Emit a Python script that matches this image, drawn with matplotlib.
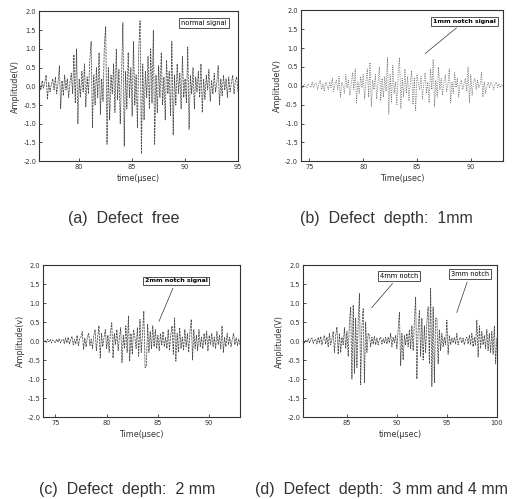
import matplotlib
matplotlib.use('agg')
import matplotlib.pyplot as plt
import numpy as np

DT = 0.125

A_T0 = 76.25
A_AMP = [
    0.05, -0.1, 0.15, -0.05, 0.1, 0.3, -0.35,
    0.1, -0.15, 0.05, 0.2, -0.1, 0.25, -0.2,
    0.1, 0.55, -0.6, 0.15, -0.25, 0.3, -0.1,
    0.2, -0.3, 0.1, 0.35, -0.2, 0.85, -0.45,
    1.0, -1.0, 0.2, -0.3, 0.4, -0.15, 0.6,
    -0.55, 0.25, -0.2, 0.7, 1.2, -1.1, 0.3,
    -0.5, 0.5, -0.3, 0.9, -0.75, 0.2, -0.4,
    1.1, 1.6, -1.55, 0.5, -0.9, 0.3, -0.2,
    0.6, -0.7, 1.0, -0.35, 0.45, -1.0, 0.3,
    1.7, -1.6, 0.4, -0.6, 0.9, -0.3, 0.5,
    -0.8, 1.2, -0.5, 0.3, -1.1, 1.0, 1.75,
    -1.8, 0.6, -0.9, 0.4, -0.3, 0.8, -0.6,
    1.0, -0.45, 1.5, -1.55, 0.3, -0.7, 0.55,
    -0.3, 0.9, -0.5, 0.25, -0.9, 0.7, -0.2,
    0.4, -0.8, 1.2, -1.3, 0.3, -0.5, 0.6,
    -0.2, 0.35, -0.6, 0.8, -0.3, 0.2, -0.45,
    1.05, -1.15, 0.3, -0.2, 0.5, -0.6, 0.25,
    -0.15, 0.4, -0.3, 0.6, -0.7, 0.2, -0.35,
    0.3, -0.1, 0.45, -0.4, 0.15, -0.2, 0.35,
    -0.15, 0.1, 0.55, -0.5, 0.2, -0.25, 0.3,
    -0.1, 0.2, -0.3, 0.25, -0.15, 0.1, 0.3,
    -0.2, 0.15, 0.25, -0.15]

B_T0 = 74.25
B_AMP = [
    0.02, -0.05, 0.05, 0.0, -0.05, 0.05, 0.02,
    -0.05, 0.1, -0.05, 0.05, 0.08, -0.1, 0.05,
    0.15, -0.1, 0.05, -0.15, 0.1, 0.0, -0.1,
    0.1, -0.05, 0.2, -0.15, 0.05, 0.15, -0.1,
    0.25, -0.3, 0.1, 0.0, -0.2, 0.3, -0.05,
    0.15, -0.25, 0.05, 0.35, -0.1, 0.45, -0.45,
    0.1, -0.2, 0.25, -0.05, 0.3, -0.35, 0.1,
    0.45, -0.3, 0.62, -0.55, 0.15, -0.1, 0.3,
    -0.35, 0.1, 0.5, -0.4, 0.2, -0.3, 0.25,
    -0.15, 0.75, -0.75, 0.3, -0.45, 0.55, -0.2,
    0.1, -0.5, 0.35, 0.75, -0.6, 0.2, -0.3,
    0.45, -0.2, 0.25, -0.4, 0.1, 0.4, -0.5,
    0.2, -0.65, 0.3, 0.05, -0.1, 0.25, -0.35,
    0.05, 0.35, -0.2, 0.1, -0.45, 0.45, -0.1,
    0.7, -0.55, 0.15, -0.3, 0.5, -0.1, 0.2,
    -0.25, 0.1, 0.3, -0.15, 0.05, 0.45, -0.45,
    0.1, -0.2, 0.35, -0.05, 0.2, -0.3, 0.05,
    0.15, -0.1, 0.05, 0.2, -0.15, 0.5, -0.45,
    0.3, -0.25, 0.1, 0.2, -0.1, 0.15, -0.05,
    0.05, 0.35, -0.3, 0.1, -0.2, 0.0, 0.1,
    -0.05, 0.1, 0.05, -0.1, 0.05, 0.1, -0.05,
    0.05, -0.05, 0.02, 0.0]

C_T0 = 74.0
C_AMP = [
    0.02, -0.05, 0.05, -0.02, 0.04, -0.05, 0.03, 0.0,
    -0.04, 0.05, -0.03, 0.06, -0.05, 0.02, 0.05, -0.06,
    0.08, -0.05, 0.1, -0.08, 0.04, 0.12, -0.1, 0.05,
    -0.08, 0.15, -0.12, 0.06, 0.1, 0.25, -0.22, 0.08,
    -0.15, 0.1, 0.2, -0.12, 0.05, -0.2, 0.15, 0.3,
    -0.25, 0.1, 0.4, -0.45, 0.2, -0.15, 0.1, 0.3,
    -0.2, 0.15, -0.3, 0.25, 0.48, -0.45, 0.2, -0.1,
    0.3, -0.25, 0.1, 0.35, -0.57, 0.15, -0.2, 0.4,
    -0.3, 0.66, -0.53, 0.2, -0.35, 0.3, 0.1, -0.2,
    0.35, -0.4, 0.57, -0.3, 0.2, 0.79, -0.7, -0.65,
    0.45, -0.3, 0.25, -0.2, 0.4, -0.15, 0.3, -0.2,
    0.15, -0.25, 0.2, -0.1, 0.25, -0.15, 0.1, -0.2,
    0.3, -0.25, 0.15, 0.4, -0.35, 0.61, -0.53, 0.2,
    -0.3, 0.35, -0.2, 0.1, -0.25, 0.3, -0.15, 0.2,
    -0.3, 0.25, 0.57, -0.5, 0.3, -0.2, 0.15, -0.25,
    0.3, -0.15, 0.1, -0.2, 0.2, -0.1, 0.26, -0.26,
    0.15, -0.1, 0.2, -0.15, 0.1, -0.2, 0.25, -0.1,
    0.15, -0.2, 0.4, -0.3, 0.1, -0.15, 0.2, -0.1,
    0.1, -0.15, 0.05, 0.2, -0.1, 0.08, -0.12, 0.05,
    -0.1]

D_T0 = 80.625
D_AMP = [
    0.05, -0.05, 0.02,
    -0.03, 0.06, -0.05, 0.04, 0.08, -0.06, 0.02, 0.05,
    -0.08, 0.1, -0.05, 0.12, -0.1, 0.05, 0.15, -0.08,
    0.1, -0.15, 0.2, -0.1, 0.05, 0.25, -0.3, 0.15,
    0.37, -0.35, 0.2, -0.3, 0.1, -0.1, 0.35, -0.2,
    0.25, -0.4, 0.5, 0.9, -1.0, 0.95, -0.85, 0.6,
    -0.7, 0.5, 1.25, -1.15, 0.4, 0.85, -1.1, 0.5,
    -0.3, 0.2, 0.15, -0.15, 0.1, -0.08, 0.12, -0.1,
    0.08, -0.1, 0.05, 0.1, -0.08, 0.06, -0.05, 0.1,
    -0.08, 0.1, -0.05, 0.2, -0.15, 0.1, -0.05, 0.15,
    -0.2, 0.3, 0.75, -0.65, 0.2, -0.5, 0.15, -0.1,
    0.2, -0.15, 0.3, -0.2, 0.4, -0.25, 0.5, 1.15,
    -1.0, 0.3, 0.8, -0.4, 0.6, -0.5, 0.4, -0.3,
    0.5, 0.9, -0.6, 1.4, -1.2, 0.9, -1.1, 0.6,
    0.6, -0.6, 0.3, -0.25, 0.2, -0.15, 0.1, -0.1,
    0.55, -0.35, 0.15, -0.1, 0.08, -0.05, 0.1, -0.08,
    0.2, -0.1, 0.05, 0.1, -0.05, 0.08, -0.1, 0.05,
    0.1, -0.08, 0.15, -0.1, 0.2, -0.15, 0.1, -0.12,
    0.55, -0.42, 0.4, -0.2, 0.25, -0.1, 0.15, -0.2,
    0.3, -0.25, 0.2, -0.3, 0.25, -0.35, 0.4, -0.6,
    0.1]

XLIMS = [(76.2, 95), (74.2, 93), (73.8, 93), (80.6, 100)]
XTICKS = [[80, 85, 90, 95], [75, 80, 85, 90], [75, 80, 85, 90], [85, 90, 95, 100]]
YLABELS = ['Amplitude(V)', 'Amplitude(V)', 'Amplitude(v)', 'Amplitude(V)']
XLABELS = ['time(\u03bcsec)', 'Time(\u03bcsec)', 'Time(\u03bcsec)', 'time(\u03bcsec)']
CAPTIONS = ['(a)  Defect  free', '(b)  Defect  depth:  1mm',
            '(c)  Defect  depth:  2 mm', '(d)  Defect  depth:  3 mm and 4 mm']

# axes boxes in figure fraction [left, bottom, width, height]
BOXES = [[0.0754, 0.677, 0.385, 0.300],
         [0.582, 0.677, 0.391, 0.302],
         [0.0832, 0.1643, 0.381, 0.3046],
         [0.586, 0.1643, 0.375, 0.3046]]
CAP_POS = [(0.240, 0.563), (0.747, 0.563), (0.246, 0.020), (0.737, 0.020)]
LINE_STYLE = [(0, (3, 1)), (0, (1.5, 1.5)), (0, (3, 1)), (0, (3, 1))]
LINE_COLOR = ['0.3', '0.45', '0.3', '0.3']

fig = plt.figure(figsize=(5.17, 4.99), dpi=100)

signals = [(A_T0, A_AMP), (B_T0, B_AMP), (C_T0, C_AMP), (D_T0, D_AMP)]
axes = []
for k, (t0, amp) in enumerate(signals):
    ax = fig.add_axes(BOXES[k])
    t = t0 + DT * np.arange(len(amp))
    ax.plot(t, amp, color=LINE_COLOR[k], lw=0.55, ls=LINE_STYLE[k])
    ax.set_xlim(XLIMS[k])
    ax.set_ylim(-2.0, 2.0)
    ax.set_xticks(XTICKS[k])
    ax.set_yticks(np.arange(-2.0, 2.01, 0.5))
    ax.yaxis.set_major_formatter(matplotlib.ticker.FormatStrFormatter('%.1f'))
    ax.tick_params(direction='in', labelsize=4.8, length=2, width=0.6, pad=2,
                   colors='0.2')
    ax.set_xlabel(XLABELS[k], fontsize=5.8, labelpad=3, color='0.2')
    ax.set_ylabel(YLABELS[k], fontsize=5.8, labelpad=2, color='0.2')
    for s in ax.spines.values():
        s.set_linewidth(0.8)
        s.set_color('0.2')
    fig.text(CAP_POS[k][0], CAP_POS[k][1], CAPTIONS[k], ha='center', va='center',
             fontsize=11.5, family='Liberation Sans', color='0.2')
    axes.append(ax)

box = dict(boxstyle='square,pad=0.3', fc='white', ec='0.2', lw=0.6)

axes[0].text(91.8, 1.68, 'normal signal', fontsize=4.8, ha='center', va='center',
             bbox=box)
axes[1].annotate('1mm notch signal', xy=(85.56, 0.81), xytext=(89.4, 1.71),
                 fontsize=4.5, fontweight='bold', ha='center', va='center', bbox=box,
                 arrowprops=dict(arrowstyle='-', color='0.2', lw=0.5))
axes[2].annotate('2mm notch signal', xy=(85.0, 0.45), xytext=(86.76, 1.58),
                 fontsize=4.5, fontweight='bold', ha='center', va='center', bbox=box,
                 arrowprops=dict(arrowstyle='-', color='0.2', lw=0.5))
axes[3].annotate('4mm notch', xy=(87.3, 0.82), xytext=(90.2, 1.71),
                 fontsize=4.8, ha='center', va='center', bbox=box,
                 arrowprops=dict(arrowstyle='-', color='0.2', lw=0.5))
axes[3].annotate('3mm notch', xy=(95.9, 0.68), xytext=(97.3, 1.76),
                 fontsize=4.8, ha='center', va='center', bbox=box,
                 arrowprops=dict(arrowstyle='-', color='0.2', lw=0.5))

plt.savefig('out.png', dpi=100)
